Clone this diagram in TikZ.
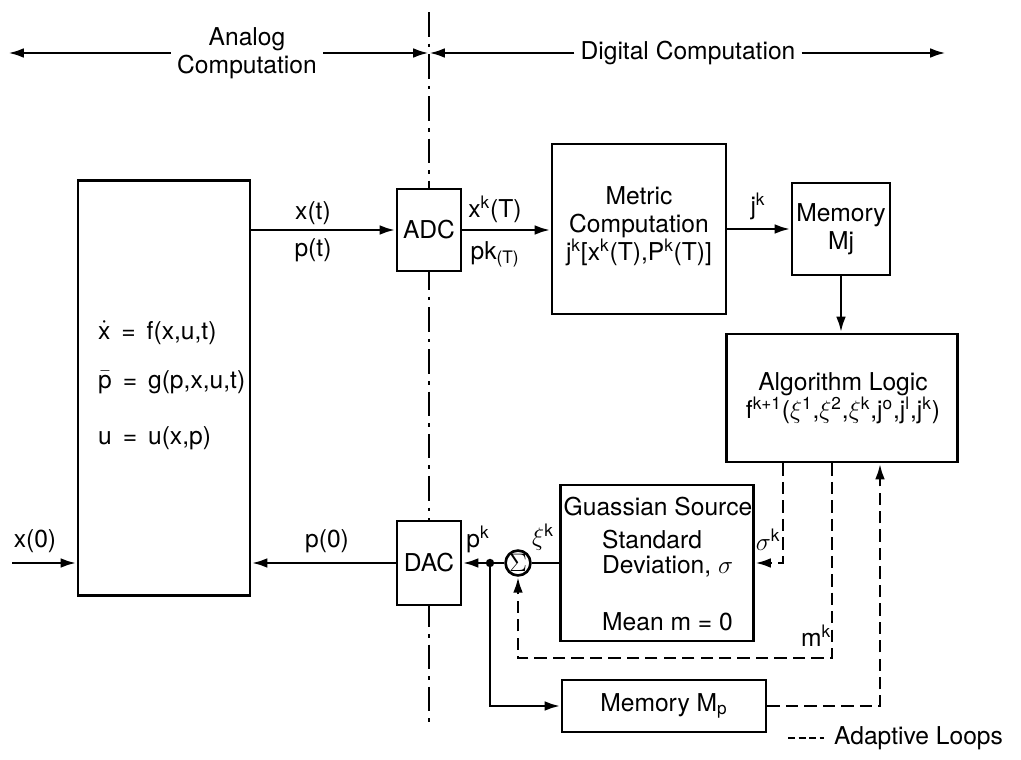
\documentclass[tikz,border=0pt]{standalone}
\usepackage{fontspec}
\setmainfont{TeX Gyre Heros}
\usetikzlibrary{arrows.meta}

\begin{document}
\begin{tikzpicture}[x=0.2mm,y=-0.2mm,>={Latex[length=9pt,width=5.5pt]},
  every node/.style={font=\fontsize{14}{16}\selectfont},
  box/.style={draw=black,line width=1.7pt,fill=white,inner sep=0pt,align=center},
  wire/.style={line width=1.6pt},
  adapt/.style={line width=1.6pt,dash pattern=on 7pt off 3.5pt}]
\useasboundingbox (0,0) rectangle (1021,760);
\coordinate (lt) at (8,53);
\coordinate (mid) at (429,53);
\coordinate (rt) at (946,53);
\coordinate (vt) at (429,12);
\coordinate (vb) at (429,722);
\draw [line width=1.4pt,dash pattern=on 14pt off 4pt on 2pt off 4pt] (vt) to (vb);
\node [align=center] (ana) at (247,53) {Analog\\Computation};
\node (dig) at (688,53) {Digital Computation};
\draw [wire,->] (ana.west) to (lt);
\draw [wire,->] (ana.east) to (mid);
\draw [wire,->] (dig.west) to (mid);
\draw [wire,->] (dig.east) to (rt);
\node [box,minimum width=34.4mm,minimum height=83mm] (sys) at (164,388) {};
\node [anchor=west] (eq1) at (92,333) {$\dot{\mbox{x}}$ \,=\, f(x,u,t)};
\node [anchor=west] (eq2) at (92,382) {$\bar{\mbox{p}}$ \,=\, g(p,x,u,t)};
\node [anchor=west] (eq3) at (92,438) {u \,=\, u(x,p)};
\node [box,minimum width=12.8mm,minimum height=16.4mm] (adc) at (429,230) {ADC};
\node [box,minimum width=12.8mm,minimum height=16.8mm] (dac) at (429,563) {DAC};
\node [box,minimum width=34.8mm,minimum height=34mm] (met) at (639,229) {};
\node [align=center] (mtxt) at (639,226) {Metric\\Computation\\j\textsuperscript{k}[x\textsuperscript{k}(T),P\textsuperscript{k}(T)]};
\node [box,minimum width=19.6mm,minimum height=18.4mm] (mj) at (841,229) {Memory\\Mj};
\node [box,minimum width=46.2mm,minimum height=25.6mm] (alg) at (842,398) {};
\node [align=center] (atxt) at (843,398) {Algorithm Logic\\f\textsuperscript{k+1}($\xi$\textsuperscript{1},$\xi$\textsuperscript{2},$\xi$\textsuperscript{k},j\textsuperscript{o},j\textsuperscript{l},j\textsuperscript{k})};
\node [box,minimum width=38.6mm,minimum height=31.2mm] (gs) at (657,563) {};
\node (g1) at (658,507) {Guassian Source};
\node [anchor=west] (g2) at (596,540) {Standard};
\node [anchor=west] (g3) at (596,566) {Deviation, $\sigma$};
\node [anchor=west] (g4) at (596,622) {Mean m = 0};
\node [draw=black,line width=1.5pt,circle,inner sep=0pt,minimum size=4.6mm] (sum) at (518,563) {$\Sigma$};
\node [box,minimum width=40.8mm,minimum height=10.4mm] (mp) at (664,706) {Memory M\textsubscript{p}};
\node (xt) at (313,213) {x(t)};
\node (pt) at (313,250) {p(t)};
\node (xk) at (495,209) {x\textsuperscript{k}(T)};
\node (pk) at (495,254) {pk\textsubscript{(T)}};
\node (jk) at (758,206) {j\textsuperscript{k}};
\node (p0) at (327,541) {p(0)};
\node (x0) at (35,541) {x(0)};
\node (pkl) at (478,539) {p\textsuperscript{k}};
\node (xik) at (543,537) {$\xi$\textsuperscript{k}};
\node (sigk) at (768,540) {$\sigma$\textsuperscript{k}};
\node (mk) at (816,636) {m\textsuperscript{k}};
\coordinate (in) at (12,563);
\coordinate (j) at (490,563);
\coordinate (s1) at (783,563);
\coordinate (m1) at (832,658);
\coordinate (r1) at (880,706);
\draw [wire,->] (sys.east |- adc.west) to (adc.west);
\draw [wire,->] (adc.east) to (adc.east -| met.west);
\draw [wire,->] (met.east) to (mj.west);
\draw [wire,->] (mj.south) to (mj.south |- alg.north);
\draw [wire,->] (in) to (in -| sys.west);
\draw [wire,->] (dac.west) to (dac.west -| sys.east);
\draw [wire] (gs.west) to (sum.east);
\draw [wire,->] (sum.west) to (dac.east);
\fill (j) circle (2.4pt);
\draw [wire,->] (j) -- (j |- mp.west) -- (mp.west);
\draw [adapt,->] (s1 |- alg.south) -- (s1) -- (s1 -| gs.east);
\draw [adapt,->] (m1 |- alg.south) -- (m1) -- (m1 -| sum.south) -- (sum.south);
\draw [adapt,->] (mp.east) -- (r1) -- (r1 |- alg.south);
\coordinate (la) at (788,738);
\coordinate (lb) at (824,738);
\draw [line width=1.6pt,dash pattern=on 4pt off 2pt] (la) to (lb);
\node [anchor=west] (leg) at (828,738) {Adaptive Loops};
\end{tikzpicture}
\end{document}
